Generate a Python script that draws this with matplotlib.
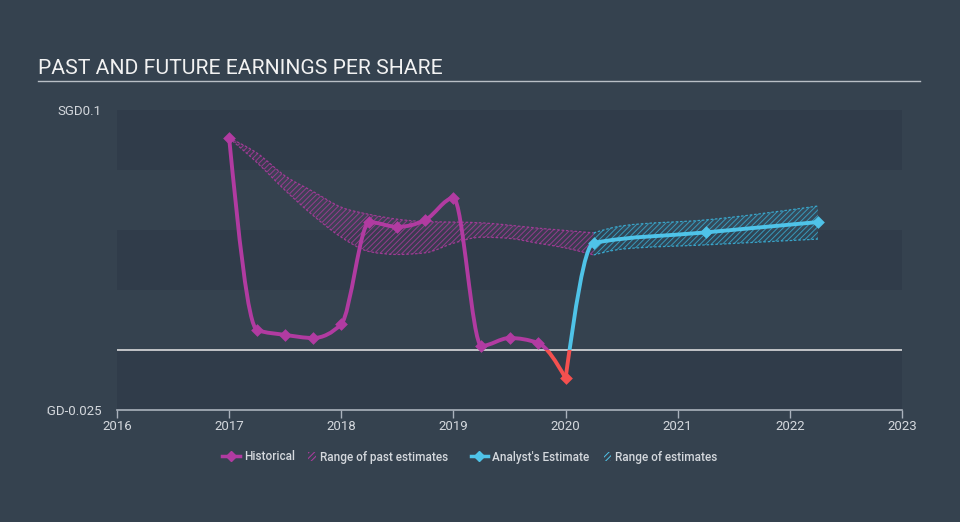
import numpy as np
import matplotlib
matplotlib.use("Agg")
from matplotlib import pyplot as plt
from matplotlib.path import Path
from matplotlib.patches import PathPatch, Patch, Rectangle
from matplotlib.lines import Line2D
from matplotlib.transforms import Bbox, TransformedBbox
from matplotlib.legend_handler import HandlerPatch

plt.rcParams["font.family"] = ["Roboto", "DejaVu Sans"]
plt.rcParams["hatch.linewidth"] = 0.7

# Historical EPS (SGD), quarterly
hist_x = [2017.0, 2017.25, 2017.5, 2017.75, 2018.0, 2018.25, 2018.5, 2018.75,
          2019.0, 2019.25, 2019.5, 2019.75, 2020.0]
hist_y = [0.0883, 0.0083, 0.0063, 0.0050, 0.0108, 0.0533, 0.0513, 0.0542,
          0.0633, 0.0017, 0.0050, 0.0030, -0.0117]

# Range of past estimates
past_x = [2017.0, 2017.25, 2017.5, 2017.75, 2018.0, 2018.25, 2018.5, 2018.75,
          2019.0, 2019.25, 2019.5, 2019.75, 2020.0, 2020.25]
past_hi = [0.0883, 0.0820, 0.0725, 0.0660, 0.0595, 0.0565, 0.0545, 0.0535,
           0.0533, 0.0530, 0.0520, 0.0508, 0.0498, 0.0488]
past_lo = [0.0883, 0.0780, 0.0665, 0.0560, 0.0470, 0.0410, 0.0398, 0.0405,
           0.0445, 0.0470, 0.0465, 0.0445, 0.0425, 0.0396]

# Analyst estimates
est_x = [2020.0, 2020.25, 2021.25, 2022.25]
est_y = [-0.0117, 0.0446, 0.0490, 0.0533]
rng_x = [2020.25, 2020.5, 2021.25, 2022.25]
rng_hi = [0.0488, 0.0517, 0.0542, 0.0600]
rng_lo = [0.0396, 0.0420, 0.0438, 0.0462]

years = [2016, 2017, 2018, 2019, 2020, 2021, 2022, 2023]

BG = "#35424f"
BAND = "#303c4a"
PURPLE = "#b13ba1"
BLUE = "#4fc3e8"
RED = "#f4504f"
TXT = "#d4d8dd"


def mono_curve(xs, ys):
    # monotone cubic (like d3 curveMonotoneX) as bezier path pieces
    x = np.asarray(xs, float)
    y = np.asarray(ys, float)
    n = len(x)
    h = np.diff(x)
    s = np.diff(y) / h
    t = np.zeros(n)
    for i in range(1, n - 1):
        h0, h1, s0, s1 = h[i - 1], h[i], s[i - 1], s[i]
        p = (s0 * h1 + s1 * h0) / (h0 + h1)
        t[i] = (np.sign(s0) + np.sign(s1)) * min(abs(s0), abs(s1), 0.5 * abs(p))
    if n > 2:
        t[0] = (3 * s[0] - t[1]) / 2
        t[-1] = (3 * s[-1] - t[-2]) / 2
    else:
        t[:] = s[0]
    verts = [(x[0], y[0])]
    for i in range(n - 1):
        dx = h[i] / 3
        verts += [(x[i] + dx, y[i] + dx * t[i]),
                  (x[i + 1] - dx, y[i + 1] - dx * t[i + 1]),
                  (x[i + 1], y[i + 1])]
    codes = [Path.MOVETO] + [Path.CURVE4] * (len(verts) - 1)
    return verts, codes


def band(ax, xs, hi, lo, color):
    v1, c1 = mono_curve(xs, hi)
    v2, c2 = mono_curve(xs, lo)
    verts = v1 + v2[::-1] + [v1[0]]
    codes = c1 + [Path.LINETO] + [Path.CURVE4] * (len(v2) - 1) + [Path.CLOSEPOLY]
    ax.add_patch(PathPatch(Path(verts, codes), facecolor=color, alpha=0.08,
                           lw=0, zorder=2))
    ax.add_patch(PathPatch(Path(verts, codes), facecolor="none", edgecolor=color,
                           hatch="//////", lw=0, alpha=0.75, zorder=2))
    for v, c in ((v1, c1), (v2, c2)):
        ax.add_patch(PathPatch(Path(v, c), facecolor="none", edgecolor=color,
                               lw=0.9, ls=(0, (2, 1.5)), alpha=0.85, zorder=2))


def split_line(ax, xs, ys, color):
    verts, codes = mono_curve(xs, ys)
    for col, rect in ((color, Rectangle((2010, 0), 20, 1)),
                      (RED, Rectangle((2010, -1), 20, 1))):
        rect.set_transform(ax.transData)
        p = PathPatch(Path(verts, codes), facecolor="none", edgecolor=col,
                      lw=2.8, capstyle="round", joinstyle="round", zorder=4)
        ax.add_patch(p)
        p.set_clip_path(rect)


def small_patch(legend, orig_handle, xdescent, ydescent, width, height, fontsize):
    return Rectangle((width - height * 0.9, -ydescent), height * 0.9, height)


fig = plt.figure(figsize=(9.6, 5.22), dpi=100, facecolor=BG)
ax = fig.add_axes([117 / 960, 1 - 410 / 522, 785 / 960, 300 / 522])
ax.set_facecolor(BG)
ax.set_xlim(2016, 2023)
ax.set_ylim(-0.025, 0.1)

for lo_, hi_ in ((0.075, 0.1), (0.025, 0.05), (-0.025, 0.0)):
    ax.axhspan(lo_, hi_, color=BAND, lw=0, zorder=0)
ax.axhline(0, color="#e8e8e8", lw=1.1, zorder=1)

band(ax, past_x, past_hi, past_lo, PURPLE)
band(ax, rng_x, rng_hi, rng_lo, "#3ab4dc")

split_line(ax, hist_x, hist_y, PURPLE)
split_line(ax, est_x, est_y, BLUE)

ax.scatter(hist_x[:-1], hist_y[:-1], marker="D", s=42, color=PURPLE, zorder=5, lw=0)
ax.scatter(hist_x[-1:], hist_y[-1:], marker="D", s=42, color=RED, zorder=5, lw=0)
ax.scatter(est_x[1:], est_y[1:], marker="D", s=42, color=BLUE, zorder=5, lw=0)

for side in ("top", "right", "left"):
    ax.spines[side].set_visible(False)
ax.spines["bottom"].set_color("#aab2bc")
ax.spines["bottom"].set_linewidth(1.2)

ax.set_xticks(years)
ax.set_xticklabels([str(y) for y in years])
ax.tick_params(axis="x", colors="#aab2bc", labelcolor=TXT, labelsize=9.5,
               length=6, width=1, pad=1)
ax.set_yticks([-0.025, 0.1])
ax.set_yticklabels(["SGD-0.025", "SGD0.1"])
ax.tick_params(axis="y", length=0, labelcolor=TXT, labelsize=9.5, pad=11)
clip = TransformedBbox(Bbox([[47 / 960, 0], [1, 1]]), fig.transFigure)
for lab in ax.get_yticklabels():
    lab.set_clip_box(clip)
    lab.set_clip_on(True)

fig.text(38 / 960, 1 - 68 / 522, "PAST AND FUTURE EARNINGS PER SHARE",
         color="#f2f2f2", fontsize=15.2, va="center", ha="left")
fig.add_artist(Line2D([38 / 960, 920 / 960], [1 - 81 / 522] * 2,
                      transform=fig.transFigure, color="#b9bfc6", lw=1))

leg_kw = dict(loc="center", ncol=2, frameon=False, labelcolor=TXT,
              handlelength=1.5, handletextpad=0.35, columnspacing=0.3,
              prop={"weight": "medium", "size": 8.5},
              handler_map={Patch: HandlerPatch(patch_func=small_patch)})
h1 = [Line2D([], [], color=PURPLE, lw=2.5, marker="D", markersize=5.5),
      Patch(facecolor="none", edgecolor=PURPLE, hatch="//////", lw=0)]
h2 = [Line2D([], [], color=BLUE, lw=2.5, marker="D", markersize=5.5),
      Patch(facecolor="none", edgecolor=BLUE, hatch="//////", lw=0)]
fig.legend(h1, ["Historical", "Range of past estimates"],
           bbox_to_anchor=(335 / 960, 1 - 457 / 522), **leg_kw)
fig.legend(h2, ["Analyst's Estimate", "Range of estimates"],
           bbox_to_anchor=(594 / 960, 1 - 457 / 522), **leg_kw)

fig.savefig("out.png", dpi=100, facecolor=BG)
